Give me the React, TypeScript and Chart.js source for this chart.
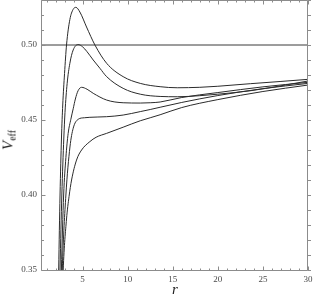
import React, { useEffect, useRef } from 'react';
import { Chart, registerables } from 'chart.js';

Chart.register(...registerables);

// ---- data ----
const rA = [2.2, 2.35, 2.5, 2.66, 2.8, 3.0, 3.22, 3.59, 3.95, 4.26, 4.7, 5.44, 6.37, 7.67, 9.5, 11.4, 13.6, 15.5, 18, 20, 23.6, 27, 30];
const vA = [0.29, 0.35, 0.40, 0.438, 0.46, 0.481, 0.50, 0.517, 0.5237, 0.5251, 0.522, 0.512, 0.50, 0.4878, 0.4789, 0.4744, 0.4722, 0.4715, 0.4718, 0.4725, 0.4742, 0.4757, 0.4771];

const rB = [2.3, 2.5, 2.7, 2.92, 3.05, 3.29, 3.59, 3.96, 4.51, 5.0, 5.5, 6.18, 6.92, 7.67, 9.5, 11.4, 13.6, 15.5, 18, 20, 23.6, 27, 30];
const vB = [0.28, 0.35, 0.40, 0.438, 0.455, 0.4744, 0.4878, 0.4967, 0.5003, 0.4988, 0.4955, 0.49, 0.4845, 0.4789, 0.4711, 0.4672, 0.4657, 0.4655, 0.4662, 0.4672, 0.4695, 0.4728, 0.476];

const rC = [2.45, 2.65, 2.9, 3.15, 3.4, 3.7, 3.96, 4.2, 4.5, 4.89, 5.5, 6.18, 7.67, 9.5, 11.4, 12.5, 13.6, 16, 20, 25, 30];
const vC = [0.30, 0.35, 0.40, 0.425, 0.441, 0.4505, 0.4575, 0.464, 0.4695, 0.4718, 0.4705, 0.4678, 0.4633, 0.4615, 0.4613, 0.4615, 0.462, 0.465, 0.4683, 0.4721, 0.4751];

const rD = [2.55, 2.75, 3.15, 3.6, 3.96, 4.52, 5.2, 5.81, 6.7, 7.67, 9.5, 11.4, 12.5, 13.6, 16, 20, 25, 30];
const vD = [0.30, 0.35, 0.40, 0.432, 0.4445, 0.4505, 0.4515, 0.4518, 0.452, 0.4522, 0.4533, 0.4556, 0.457, 0.4585, 0.4617, 0.4663, 0.4709, 0.4744];

const rE = [2.6, 2.85, 3.22, 3.5, 3.78, 4.33, 4.89, 5.81, 6.5, 7.67, 9.5, 11.4, 12.5, 13.6, 16, 20, 25, 30];
const vE = [0.30, 0.35, 0.384, 0.399, 0.41, 0.4233, 0.43, 0.4356, 0.4385, 0.4411, 0.4452, 0.4495, 0.4515, 0.4535, 0.4583, 0.4636, 0.469, 0.4733];

const hLineR = [0.5, 30];
const hLineV = [0.5, 0.5];

const xRange = [0.5, 30];
const yRange = [0.35, 0.53];
const xTickLabels = [5, 10, 15, 20, 25, 30];
const yTickLabels = [0.35, 0.4, 0.45, 0.5];
const xMinorTicks = [1, 2, 3, 4, 5, 6, 7, 8, 9, 10, 11, 12, 13, 14, 15, 16, 17, 18, 19, 20, 21, 22, 23, 24, 25, 26, 27, 28, 29, 30];
const yMinorTicks = [0.35, 0.36, 0.37, 0.38, 0.39, 0.4, 0.41, 0.42, 0.43, 0.44, 0.45, 0.46, 0.47, 0.48, 0.49, 0.5, 0.51, 0.52, 0.53];

const curves = [
  { r: rA, v: vA },
  { r: rB, v: vB },
  { r: rC, v: vC },
  { r: rD, v: vD },
  { r: rE, v: vE },
];

const SERIF = '"Liberation Serif", "Times New Roman", serif';
const CURVE_COLOR = '#2b2b2b';
const FRAME_COLOR = '#8c8c8c';
const LABEL_COLOR = '#4a4a4a';

const toPts = (r: number[], v: number[]) => r.map((x, i) => ({ x, y: v[i] }));

const isMajor = (v: number, list: number[]) => list.some((t) => Math.abs(t - v) < 1e-9);

const framePlugin = {
  id: 'mmaFrame',
  afterDraw(chart: any) {
    const { ctx, chartArea: a, scales } = chart;
    const xs = scales.x;
    const ys = scales.y;
    const L = Math.round(a.left) - 0.5;
    const R = Math.round(a.right) - 0.5;
    const T = Math.round(a.top) + 0.5;
    const B = Math.round(a.bottom) + 0.5;
    ctx.save();
    ctx.strokeStyle = FRAME_COLOR;
    ctx.lineWidth = 1;
    ctx.beginPath();
    ctx.moveTo(L, T);
    ctx.lineTo(R, T);
    ctx.lineTo(R, B);
    ctx.lineTo(L, B);
    ctx.closePath();
    for (const v of xMinorTicks) {
      const px = Math.round(xs.getPixelForValue(v)) + 0.5;
      const len = isMajor(v, xTickLabels) ? 4 : 2;
      ctx.moveTo(px, B);
      ctx.lineTo(px, B - len);
      ctx.moveTo(px, T);
      ctx.lineTo(px, T + len);
    }
    for (const v of yMinorTicks) {
      const py = Math.round(ys.getPixelForValue(v)) + 0.5;
      const len = isMajor(v, yTickLabels) ? 4 : 2.5;
      ctx.moveTo(L, py);
      ctx.lineTo(L + len, py);
      ctx.moveTo(R, py);
      ctx.lineTo(R + 3.5, py);
    }
    ctx.stroke();
    ctx.restore();
  },
};

export default function App() {
  const ref = useRef<HTMLCanvasElement>(null);

  useEffect(() => {
    const canvas = ref.current;
    if (!canvas) return;
    const datasets: any[] = curves.map((c) => ({
      data: toPts(c.r, c.v),
      showLine: true,
      borderColor: CURVE_COLOR,
      borderWidth: 1,
      pointRadius: 0,
      pointHoverRadius: 0,
      cubicInterpolationMode: 'monotone',
      fill: false,
    }));
    datasets.push({
      data: toPts(hLineR, hLineV),
      showLine: true,
      borderColor: '#3a3a3a',
      borderWidth: 1,
      pointRadius: 0,
      pointHoverRadius: 0,
      fill: false,
    });
    const chart = new Chart(canvas, {
      type: 'scatter',
      data: { datasets },
      options: {
        animation: false,
        responsive: false,
        devicePixelRatio: 1,
        events: [],
        layout: { padding: { left: 0, right: 5, top: 0, bottom: 0 } },
        plugins: { legend: { display: false }, tooltip: { enabled: false } },
        scales: {
          x: {
            type: 'linear',
            min: xRange[0],
            max: xRange[1],
            grid: { display: false, drawTicks: false },
            border: { display: false },
            ticks: {
              font: { family: SERIF, size: 9 },
              color: LABEL_COLOR,
              padding: 4,
              maxRotation: 0,
              autoSkip: false,
            },
            afterBuildTicks: (s: any) => {
              s.ticks = xTickLabels.map((v) => ({ value: v }));
            },
            afterFit: (s: any) => {
              s.height = 31;
              s.paddingLeft = 0;
              s.paddingRight = 0;
            },
          },
          y: {
            type: 'linear',
            min: yRange[0],
            max: yRange[1],
            grid: { display: false, drawTicks: false },
            border: { display: false },
            ticks: {
              font: { family: SERIF, size: 9 },
              color: LABEL_COLOR,
              padding: 5,
              autoSkip: false,
              callback: (v: any) => Number(v).toFixed(2),
            },
            afterBuildTicks: (s: any) => {
              s.ticks = yTickLabels.map((v) => ({ value: v }));
            },
            afterFit: (s: any) => {
              s.width = 42;
              s.paddingTop = 0;
              s.paddingBottom = 0;
            },
          },
        },
      },
      plugins: [framePlugin],
    } as any);
    return () => chart.destroy();
  }, []);

  return (
    <div style={{ position: 'absolute', left: 0, top: 0, width: 313, height: 301, background: '#fff', overflow: 'hidden' }}>
      <canvas ref={ref} width={313} height={301} style={{ display: 'block', width: 313, height: 301 }} />
      <div
        style={{
          position: 'absolute',
          left: 8,
          top: 140,
          transform: 'translate(-50%, -50%) rotate(-90deg)',
          fontFamily: SERIF,
          fontSize: 15,
          lineHeight: 1,
          whiteSpace: 'nowrap',
          color: '#222',
        }}
      >
        <span style={{ fontStyle: 'italic' }}>V</span>
        <span style={{ fontSize: 10, position: 'relative', top: 3 }}>eff</span>
      </div>
      <div
        style={{
          position: 'absolute',
          left: 175,
          top: 288.5,
          transform: 'translate(-50%, -50%)',
          fontFamily: SERIF,
          fontSize: 15,
          fontStyle: 'italic',
          lineHeight: 1,
          color: '#222',
        }}
      >
        r
      </div>
    </div>
  );
}
